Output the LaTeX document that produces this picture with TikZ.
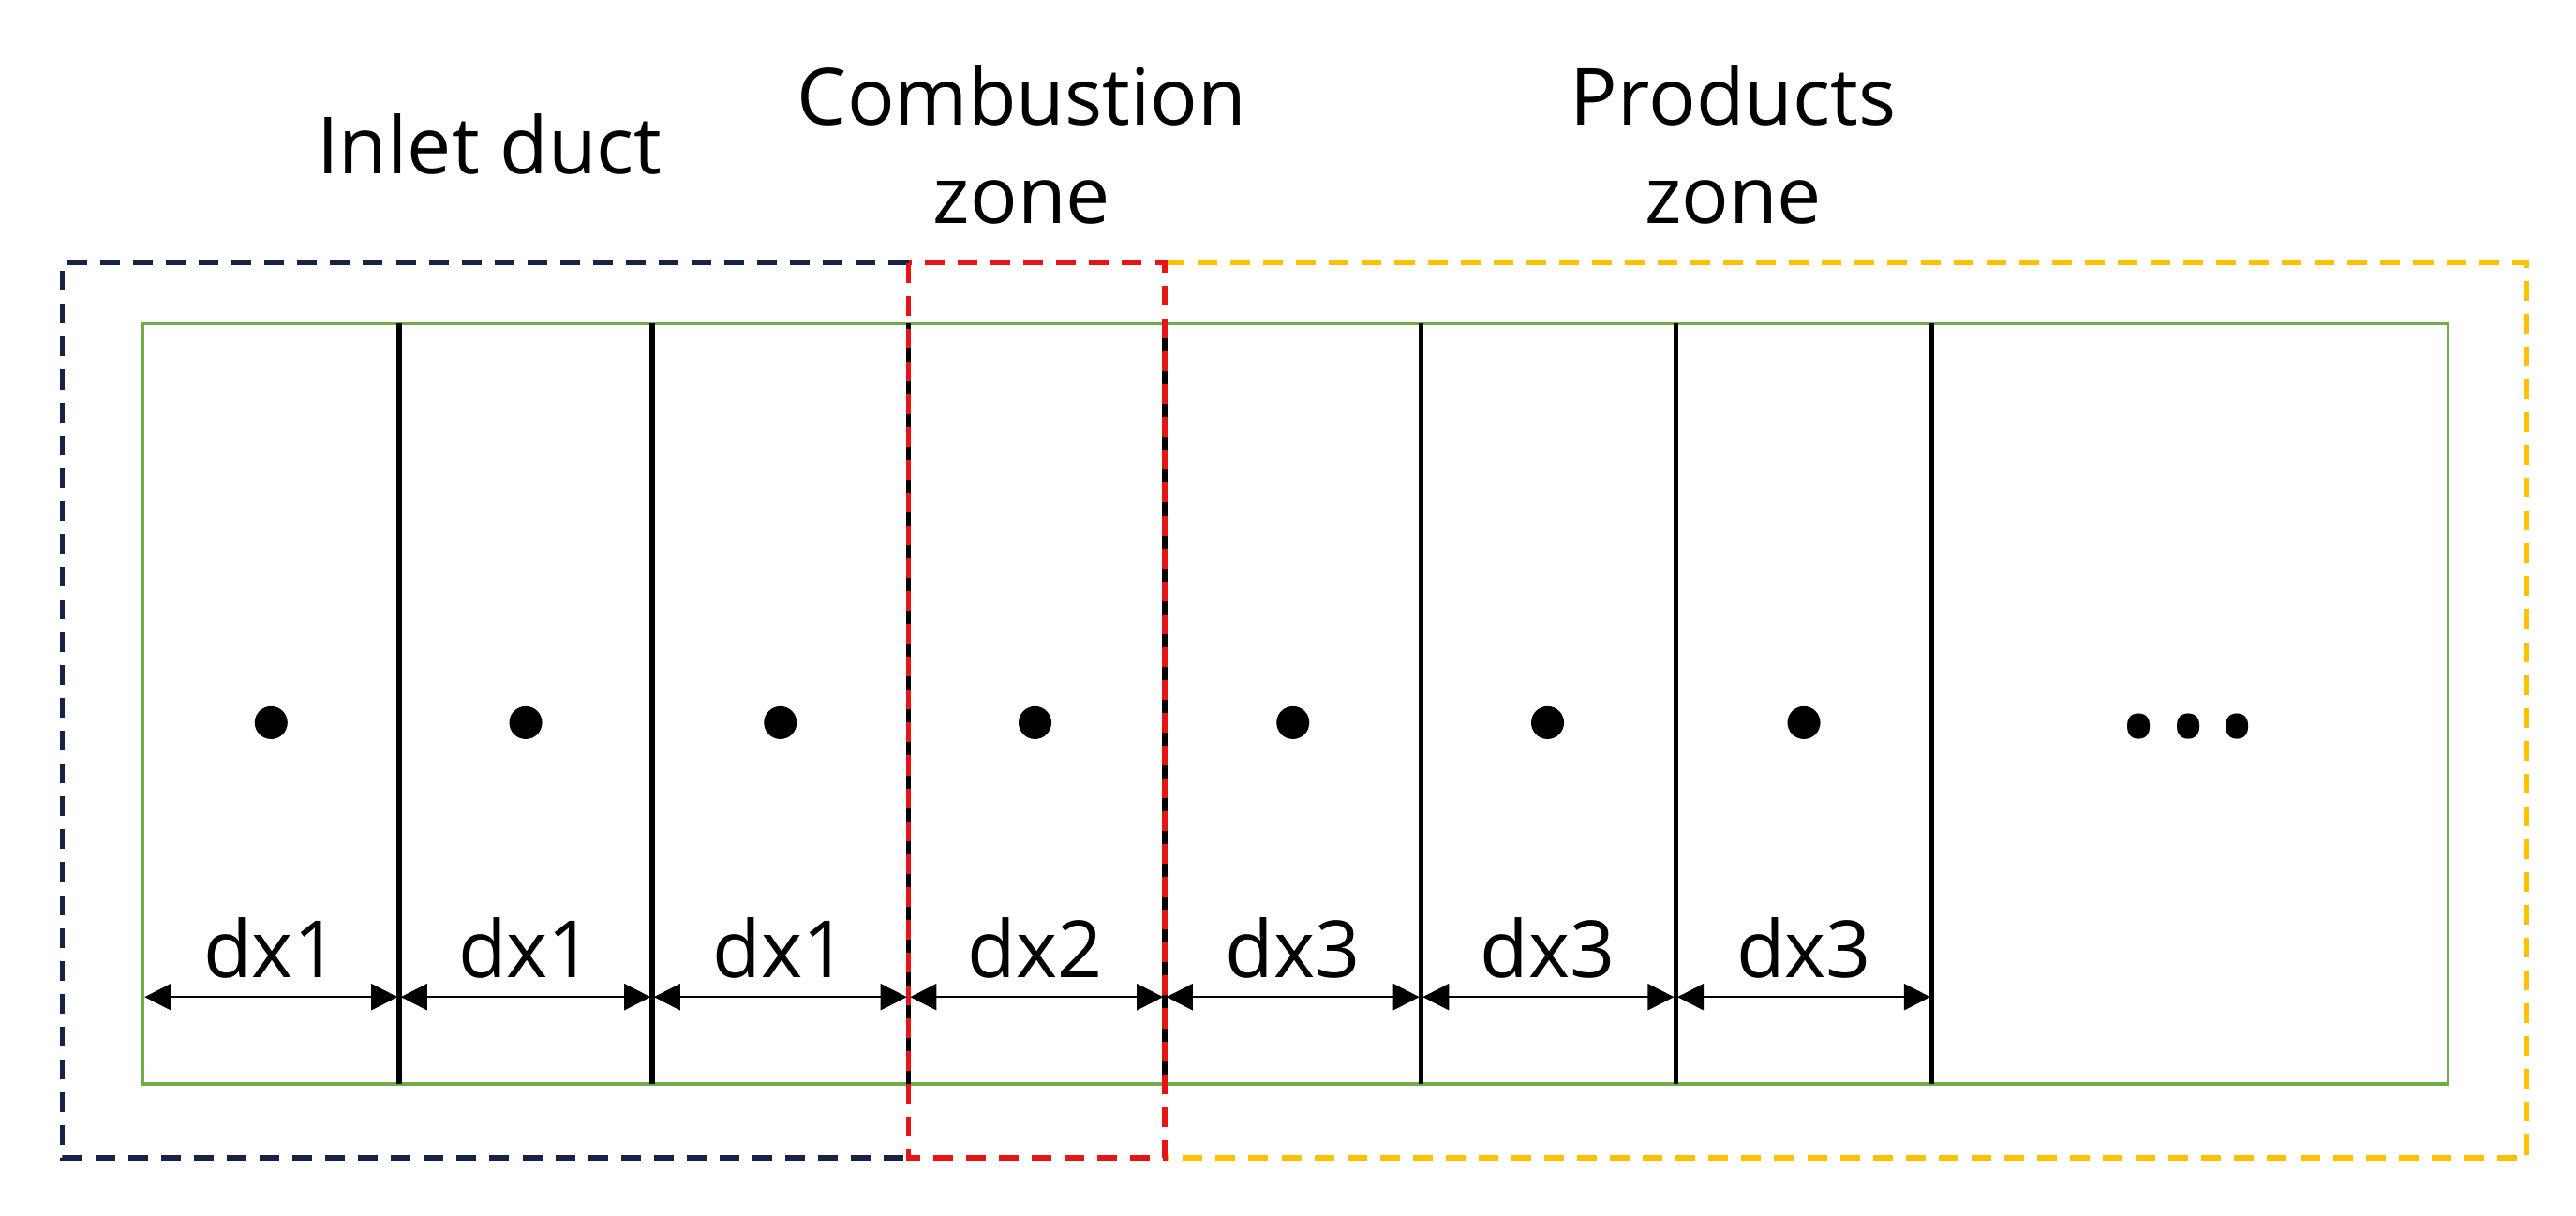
\documentclass[tikz,border=0pt]{standalone}
\usepackage{fontspec}
\setmainfont{Open Sans}
\usetikzlibrary{arrows.meta}
\begin{document}
\begin{tikzpicture}[x=0.5pt,y=-0.5pt,
  lbl/.style={font=\fontsize{24}{30}\selectfont,align=center,inner sep=0},
  zone/.style={line width=1.6pt,dash pattern=on 6pt off 4pt},
  wall/.style={line width=1.5pt},
  dim/.style={line width=0.6pt,{Triangle[length=8pt,width=8pt]}-{Triangle[length=8pt,width=8pt]},shorten <=0.5pt,shorten >=0.5pt},
  dot/.style={circle,fill=black,inner sep=0,minimum size=10pt}]
\useasboundingbox (0,0) rectangle (1568,740);
\definecolor{navy}{RGB}{20,35,70}
\definecolor{gr}{RGB}{112,173,71}
\definecolor{yel}{RGB}{255,192,0}
\definecolor{rd}{RGB}{230,20,20}
\draw[gr,line width=1pt] (87,197) rectangle (1490,660);
\foreach \i/\x in {1/87,2/243,3/397,4/553,5/709,6/865,7/1020,8/1176}{\coordinate (w\i) at (\x,607);}
\foreach \x in {243,397,553,709,865,1020,1176}{\draw[wall] (\x,197) -- (\x,660);}
\draw[zone,navy] (553,160) -- (38,160) -- (38,705) -- (553,705);
\draw[zone,yel] (709,160) -- (1538,160) -- (1538,705) -- (709,705);
\draw[zone,rd] (553,160) rectangle (709,705);
\foreach \x/\t [count=\i] in {165/dx1,320/dx1,475/dx1,630/dx2,787/dx3,942/dx3,1098/dx3}{
  \node[dot] (d\i) at (\x,440) {};
  \node[lbl] (t\i) at (\x,577) {\t};
}
\foreach \a/\b in {w1/w2,w2/w3,w3/w4,w4/w5,w5/w6,w6/w7,w7/w8}{\draw[dim] (\a) -- (\b);}
\node[lbl,font=\fontsize{32}{32}\selectfont] (dots) at (1332,450) {\textbullet\kern3pt\textbullet\kern3pt\textbullet};
\node[lbl] (inlet) at (298,88) {Inlet duct};
\node[lbl] (comb) at (622,88) {Combustion\\zone};
\node[lbl] (prod) at (1055,88) {Products\\zone};
\end{tikzpicture}
\end{document}
